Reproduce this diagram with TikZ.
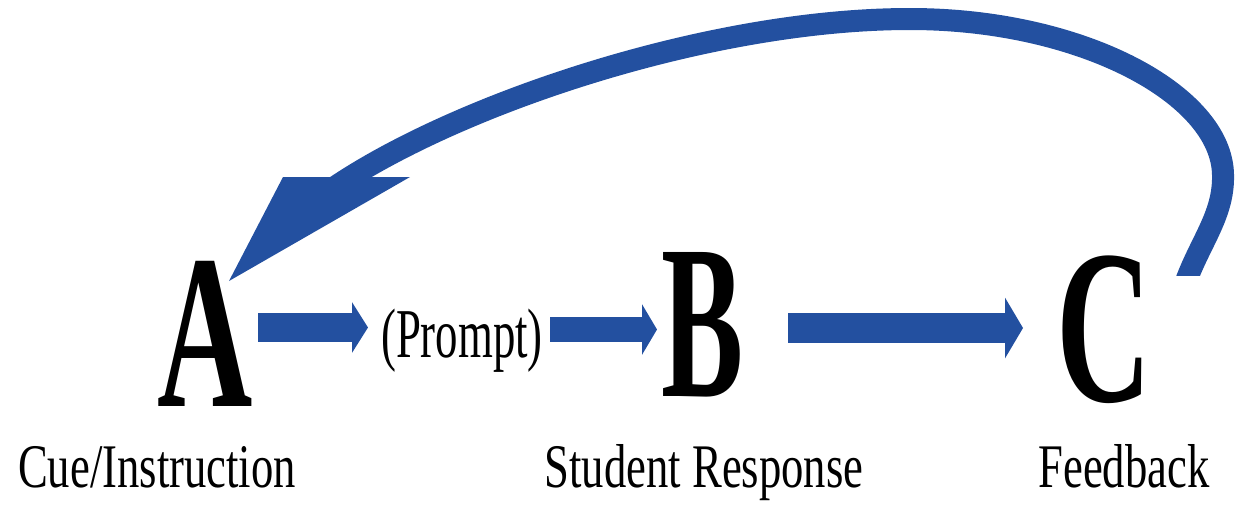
\documentclass[tikz,border=0pt]{standalone}
\usepackage{graphicx}
\usepackage{fontspec}
\setmainfont{Liberation Serif}
\usetikzlibrary{arrows.meta}
\definecolor{flowblue}{RGB}{35,80,160}
\begin{document}
\begin{tikzpicture}[x=0.5pt,y=-0.5pt,
  letter/.style={anchor=base,inner sep=0pt,font=\fontsize{110}{110}\selectfont\bfseries},
  caption/.style={anchor=base,inner sep=0pt,font=\fontsize{31}{31}\selectfont},
  prompttext/.style={anchor=base,inner sep=0pt,font=\fontsize{35}{35}\selectfont},
  blockarrow/.style={draw=flowblue,line cap=butt}]
\useasboundingbox (0,0) rectangle (1245,505);

% the three stages
\node[letter] (A) at (205,406) {\scalebox{0.6}[1]{A}};
\node[letter] (B) at (703,396) {\scalebox{0.56}[1]{B}};
\node[letter] (C) at (1104,401) {\scalebox{0.6}[1]{C}};

% stage captions
\node[caption] (cue) at (157,487) {\scalebox{0.72}[1]{Cue/Instruction}};
\node[caption] (resp) at (704,487) {\scalebox{0.72}[1]{Student Response}};
\node[caption] (fb) at (1124,487) {\scalebox{0.72}[1]{Feedback}};

% prompt between A and B
\node[prompttext] (P) at (462,357) {\scalebox{0.64}[1]{(Prompt)}};

% ends of the straight connectors
\coordinate (a1s) at (258,327.5);
\coordinate (a1e) at (368,327.5);
\coordinate (a2s) at (550,329.5);
\coordinate (a2e) at (657,329.5);
\coordinate (a3s) at (788,328);
\coordinate (a3e) at (1023,328);

\draw[blockarrow,line width=14.5pt,-{Triangle[length=8pt,width=25pt]}] (a1s) -- (a1e);
\draw[blockarrow,line width=12.5pt,-{Triangle[length=7.5pt,width=25pt]}] (a2s) -- (a2e);
\draw[blockarrow,line width=15pt,-{Triangle[length=9pt,width=30pt]}] (a3s) -- (a3e);

% feedback loop from C back to A
\coordinate (loopstart) at (1185,284);
\coordinate (loopend) at (335,187);
\coordinate (headL) at (283,177);
\coordinate (headR) at (410,177);
\coordinate (headTip) at (229,281);
\begin{scope}
  \clip (0,0) rectangle (1245,275);
  \draw[blockarrow,line width=11pt] (loopstart)
    .. controls (1200,242) and (1224,215) .. (1223,175)
    .. controls (1222,95) and (1082,19) .. (910,19)
    .. controls (710,19) and (460,103) .. (loopend);
\end{scope}
\fill[flowblue] (headL) -- (headR) -- (headTip) -- cycle;
\end{tikzpicture}
\end{document}
